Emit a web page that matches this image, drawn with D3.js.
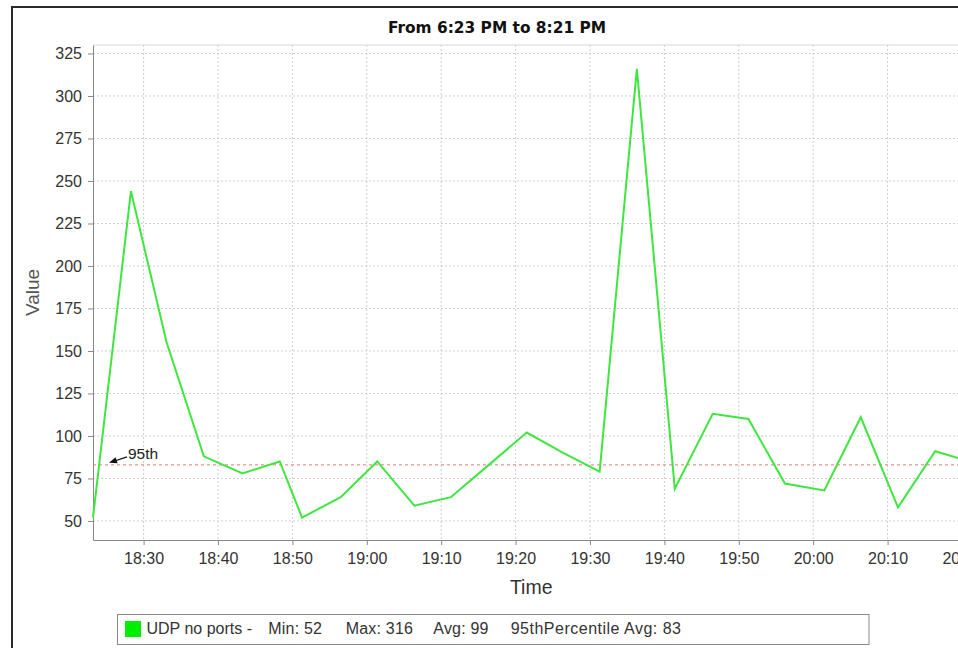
<!DOCTYPE html>
<html>
<head>
<meta charset="utf-8">
<script src="https://cdn.jsdelivr.net/npm/d3@7"></script>
<style>
  html, body { margin: 0; padding: 0; background: #fff; }
  svg { display: block; }
  text { font-family: "Liberation Sans", Arial, sans-serif; }
</style>
</head>
<body>
<svg id="chart" width="958" height="648"></svg>
<script>
// ---- data ----
const times = ["18:23:12","18:28:18","18:33:06","18:38:06","18:43:18","18:48:18","18:51:18",
  "18:56:30","19:01:24","19:06:24","19:11:18","19:16:24","19:21:30","19:26:24","19:31:18",
  "19:36:18","19:41:24","19:46:30","19:51:18","19:56:12","20:01:30","20:06:24","20:11:24",
  "20:16:24","20:21:00"];
const values = [52,244,155,88,78,85,52,64,85,59,64,83,102,90,79,316,69,113,110,72,68,111,58,91,85];
const yTicks = [50,75,100,125,150,175,200,225,250,275,300,325];
const percentile95 = 83;
const title = "From 6:23 PM to 8:21 PM";
const seriesName = "UDP no ports -";
const legendItems = ["Min: 52", "Max: 316", "Avg: 99", "95thPercentile Avg: 83"];

const parse = d3.timeParse("%H:%M:%S");
const data = times.map((t, i) => ({ t: parse(t), v: values[i] }));

const svg = d3.select("#chart");
const W = 958, H = 648;
const plot = { left: 93, top: 45, right: 969.4, bottom: 540 };

svg.append("rect").attr("width", W).attr("height", H).attr("fill", "#fff");
// outer frame (extends beyond the window on the right / bottom)
svg.append("rect").attr("x", 12).attr("y", 7).attr("width", 1000).attr("height", 700)
  .attr("fill", "none").attr("stroke", "#2a2a2a").attr("stroke-width", 2);

const x = d3.scaleTime()
  .domain([parse("18:23:12"), parse("20:21:00")])
  .range([plot.left, plot.right]);
const y = d3.scaleLinear().domain([38.8, 330]).range([plot.bottom, plot.top]);

// title
svg.append("text").attr("x", 497).attr("y", 33).attr("text-anchor", "middle")
  .style("font-family", "'DejaVu Sans', sans-serif").style("font-weight", "bold")
  .style("font-size", "15.4px").attr("fill", "#111").text(title);

// plot top border
svg.append("line").attr("x1", plot.left).attr("x2", plot.right)
  .attr("y1", plot.top).attr("y2", plot.top).attr("stroke", "#d8d8d8");

// grid
const xTickVals = x.ticks(d3.timeMinute.every(10));
svg.append("g").selectAll("line").data(xTickVals).join("line")
  .attr("x1", d => x(d)).attr("x2", d => x(d))
  .attr("y1", plot.top).attr("y2", plot.bottom)
  .attr("stroke", "#cfcfcf").attr("stroke-dasharray", "2,2");
svg.append("g").selectAll("line").data(yTicks).join("line")
  .attr("x1", plot.left).attr("x2", plot.right)
  .attr("y1", d => y(d)).attr("y2", d => y(d))
  .attr("stroke", "#cfcfcf").attr("stroke-dasharray", "2,2");

// axes
const yAxis = svg.append("g").attr("transform", `translate(${plot.left},0)`)
  .call(d3.axisLeft(y).tickValues(yTicks).tickSize(5).tickPadding(6).tickSizeOuter(0));
const xAxis = svg.append("g").attr("transform", `translate(0,${plot.bottom})`)
  .call(d3.axisBottom(x).tickValues(xTickVals).tickFormat(d3.timeFormat("%H:%M"))
    .tickSize(5).tickPadding(8).tickSizeOuter(0));
[yAxis, xAxis].forEach(g => {
  g.select(".domain").attr("stroke", "#888");
  g.selectAll(".tick line").attr("stroke", "#888");
  g.selectAll(".tick text").attr("fill", "#333")
    .style("font-size", "16px").style("font-family", "'Liberation Sans', Arial, sans-serif");
});

// axis titles
svg.append("text").attr("x", (plot.left + plot.right) / 2).attr("y", 594)
  .attr("text-anchor", "middle").style("font-size", "19.5px").attr("fill", "#333").text("Time");
svg.append("text").attr("transform", `translate(39,${(plot.top + plot.bottom) / 2}) rotate(-90)`)
  .attr("text-anchor", "middle").style("font-size", "19px").attr("fill", "#555").text("Value");

// 95th percentile line
svg.append("line").attr("x1", plot.left).attr("x2", plot.right)
  .attr("y1", y(percentile95)).attr("y2", y(percentile95))
  .attr("stroke", "#e87878").attr("stroke-width", 1).attr("stroke-dasharray", "3,3");

// series line
svg.append("path").datum(data)
  .attr("d", d3.line().x(d => x(d.t)).y(d => y(d.v)))
  .attr("fill", "none").attr("stroke", "#3fe63f").attr("stroke-width", 2)
  .attr("stroke-linejoin", "miter");

// 95th annotation with arrow
const ay = y(percentile95);
const tip = { x: plot.left + 16, y: ay - 2 };
const tail = { x: plot.left + 34, y: ay - 8 };
svg.append("line").attr("x1", tail.x).attr("y1", tail.y).attr("x2", tip.x + 5).attr("y2", tip.y - 1.6)
  .attr("stroke", "#111").attr("stroke-width", 1.2);
const ang = Math.atan2(tip.y - tail.y, tip.x - tail.x);
const hl = 8, hw = 3.2;
const bx = tip.x - hl * Math.cos(ang), by = tip.y - hl * Math.sin(ang);
svg.append("path")
  .attr("d", `M${tip.x},${tip.y} L${bx + hw * Math.sin(ang)},${by - hw * Math.cos(ang)} L${bx - hw * Math.sin(ang)},${by + hw * Math.cos(ang)} Z`)
  .attr("fill", "#111");
svg.append("text").attr("x", tail.x + 1).attr("y", ay - 6).style("font-size", "15.5px")
  .attr("fill", "#222").text("95th");

// legend
const lg = svg.append("g");
lg.append("rect").attr("x", 117.5).attr("y", 614.5).attr("width", 751.5).attr("height", 30)
  .attr("fill", "#fff").attr("stroke", "#8a8a8a").attr("stroke-width", 1);
lg.append("rect").attr("x", 125).attr("y", 621).attr("width", 16).attr("height", 16).attr("fill", "#00ee00");
lg.append("text").attr("x", 146.5).attr("y", 634).style("font-size", "16px").attr("fill", "#333").text(seriesName);
const lx = [268.3, 345.7, 433.3, 510.7];
legendItems.forEach((s, i) => {
  lg.append("text").attr("x", lx[i]).attr("y", 634).style("font-size", "16px")
    .style("letter-spacing", i === 3 ? "0.5px" : "0.2px").attr("fill", "#333").text(s);
});
</script>
</body>
</html>
